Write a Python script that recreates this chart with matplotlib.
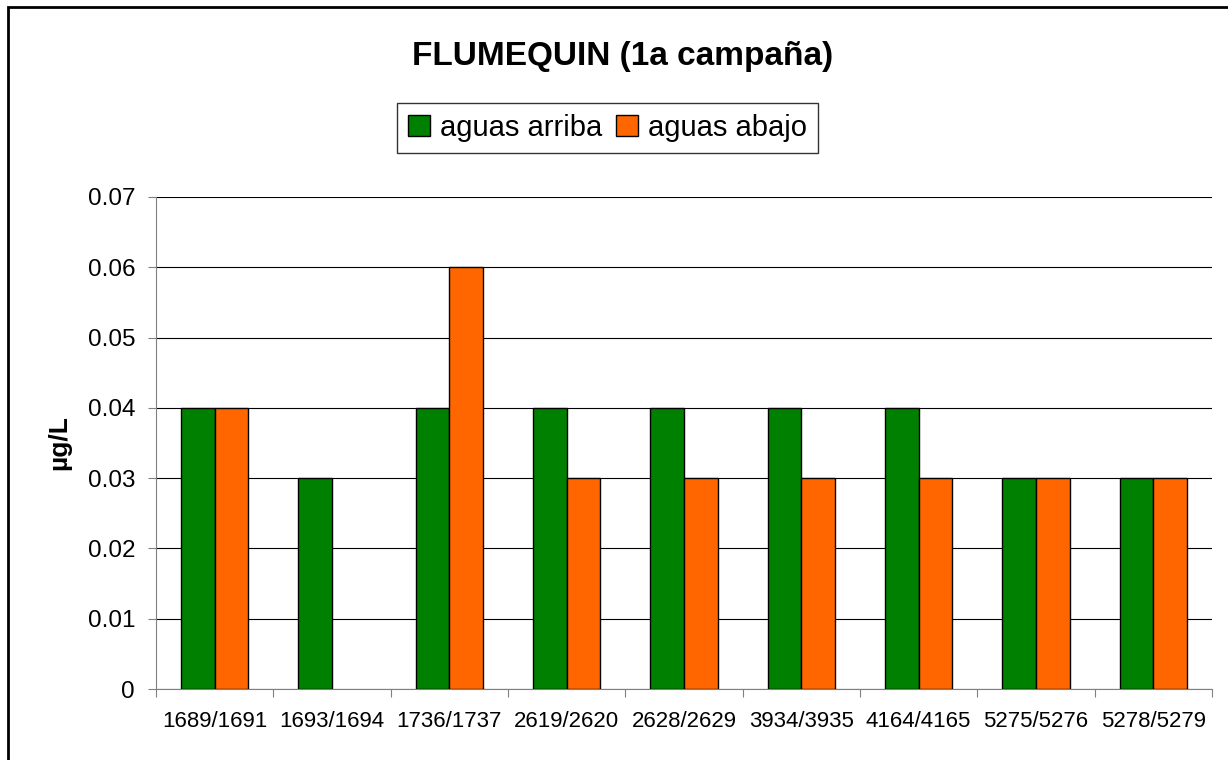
import numpy as np
import matplotlib.pyplot as plt
from matplotlib.patches import Rectangle

plt.rcParams['font.family'] = ['Liberation Sans', 'DejaVu Sans']

muestras = ["1689/1691", "1693/1694", "1736/1737", "2619/2620", "2628/2629",
            "3934/3935", "4164/4165", "5275/5276", "5278/5279"]
arriba = [0.04, 0.03, 0.04, 0.04, 0.04, 0.04, 0.04, 0.03, 0.03]
abajo = [0.04, np.nan, 0.06, 0.03, 0.03, 0.03, 0.03, 0.03, 0.03]

fig = plt.figure(figsize=(12.28, 7.6), dpi=100)
ax = fig.add_axes([0.127, 0.0934, 0.860, 0.6474])

x = np.arange(len(muestras))
w = 1 / 3.5
ax.bar(x - w / 2, arriba, w, color="#008000", edgecolor="black", linewidth=1, label="aguas arriba", zorder=3)
ax.bar(x + w / 2, abajo, w, color="#FF6600", edgecolor="black", linewidth=1, label="aguas abajo", zorder=3)

ax.set_xlim(-0.5, len(muestras) - 0.5)
ax.set_ylim(0, 0.07)
ax.set_yticks(np.arange(0, 0.071, 0.01))
ax.set_yticklabels(["0"] + ["%.2f" % v for v in np.arange(0.01, 0.071, 0.01)], fontsize=17.5)
ax.yaxis.grid(True, color="black", linewidth=0.8, zorder=0)

# category ticks between groups, labels centred
ax.set_xticks(np.arange(-0.5, len(muestras), 1))
ax.set_xticklabels([])
ax.set_xticks(x, minor=True)
ax.set_xticklabels(muestras, minor=True, fontsize=16)
ax.tick_params(axis="x", which="minor", length=0, pad=16)
ax.tick_params(axis="x", which="major", length=6, color="gray", direction="out")
ax.tick_params(axis="y", length=6, color="gray", direction="out", pad=9)

for s in ["top", "right"]:
    ax.spines[s].set_visible(False)
ax.spines["left"].set_color("gray")
ax.spines["bottom"].set_color("gray")

ax.set_ylabel("µg/L", fontsize=19, fontweight="bold", labelpad=12)

fig.text(0.507, 0.925, "FLUMEQUIN (1a campaña)", ha="center", va="center", fontsize=24, fontweight="bold")

leg = fig.legend(loc="center", bbox_to_anchor=(0.4947, 0.832), ncol=2, fontsize=21, frameon=True,
                 fancybox=False, edgecolor="black", handlelength=0.75, handleheight=0.75,
                 handletextpad=0.35, columnspacing=0.45, borderpad=0.38, borderaxespad=0)
leg.get_frame().set_linewidth(1)

# outer chart border
fig.patches.append(Rectangle((0.0065, -0.05), 1.1, 1.041, transform=fig.transFigure,
                             fill=False, edgecolor="black", linewidth=2))

fig.savefig("out.png", dpi=100)
